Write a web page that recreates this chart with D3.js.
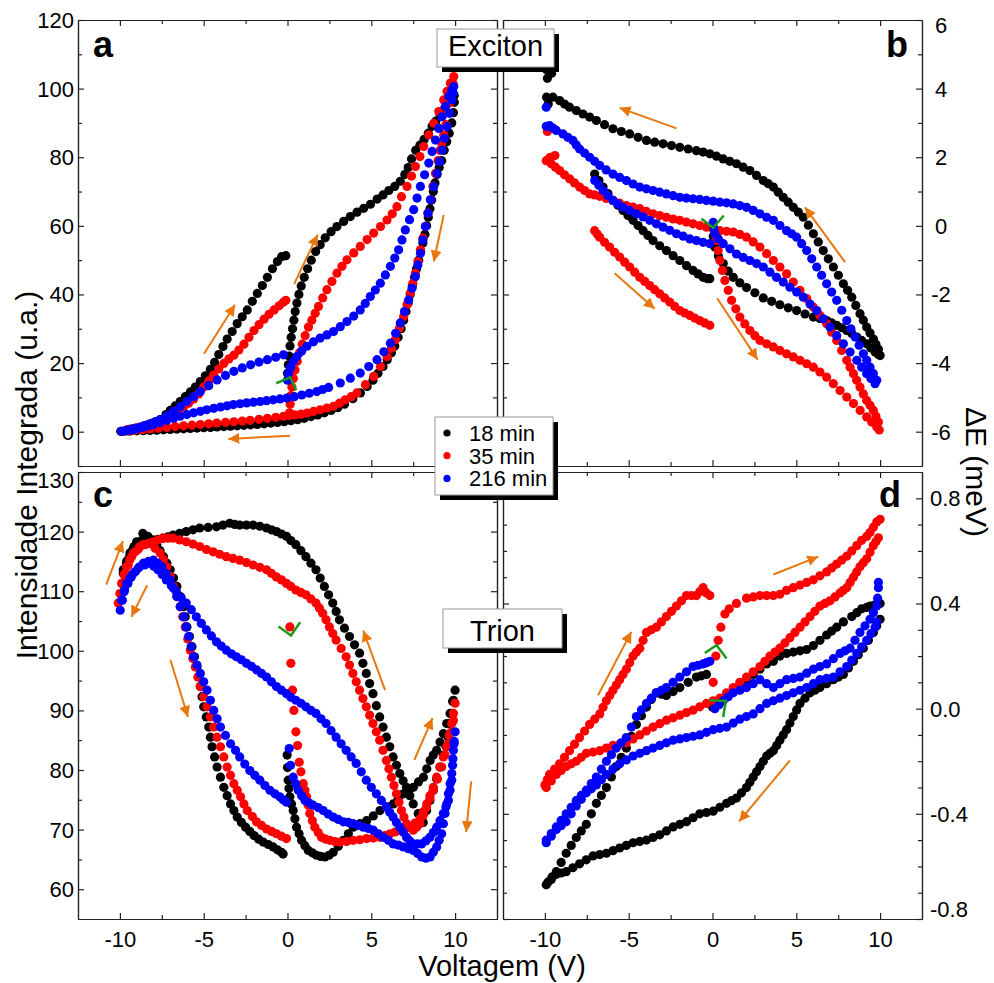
<!DOCTYPE html>
<html>
<head>
<meta charset="utf-8">
<script src="https://cdn.jsdelivr.net/npm/d3@7"></script>
<style>
body { margin: 0; background: #fff; }
text { font-family: "Liberation Sans", Arial, sans-serif; }
</style>
</head>
<body>
<div id="root"></div>
<script>
const seriesNames = ["18 min", "35 min", "216 min"];
const seriesColors = ["#000000", "#ff0000", "#0000ff"];

// panel a: exciton integrated intensity vs voltage (path order 0 -> 10 -> -10 -> 0)
const aBlack = [[0,17],[0.05,19.5],[0.1,22],[0.15,25],[0.22,27.5],[0.3,30],[0.38,32.5],[0.46,35],[0.56,37.5],[0.68,40],[0.82,42.5],[1.0,45],[1.2,47.5],[1.42,50],[1.68,52.5],[1.95,54.5],[2.25,56.5],[2.6,58.3],[2.95,59.8],[3.35,61.3],[3.75,62.7],[4.15,64],[4.55,65.1],[4.95,66.3],[5.35,67.8],[5.7,69],[6.05,70.3],[6.4,71.5],[6.73,73],[7.0,75],[7.2,77],[7.4,79.5],[7.65,82],[7.9,83.5],[8.15,85.2],[8.4,87],[8.63,89],[8.85,90.5],[9.1,92.3],[9.35,94],[9.6,95.7],[9.8,97],[9.95,98],
  [9.95,96],[9.9,93],[9.8,90],[9.65,87],[9.5,84.5],[9.35,82],[9.2,79],[9.05,77],[8.92,75],[8.8,72.5],[8.7,70],[8.6,67.5],[8.5,65],[8.4,62.5],[8.3,60],[8.2,57.5],[8.08,55],[7.95,52.5],[7.83,50],[7.7,47.5],[7.58,45],[7.45,42.5],[7.32,40],[7.2,37.5],[7.07,35],[6.93,32.5],[6.78,30],[6.6,27.5],[6.4,25],[6.2,23],[5.95,21],[5.7,19],[5.4,17],[5.1,15],[4.75,13.2],[4.35,11.3],[3.9,9.6],[3.4,8],[3.0,7],[2.6,6.2],[2.2,5.5],[1.8,4.9],[1.4,4.4],[1.0,3.9],[0.6,3.5],[0.2,3.2],[-0.2,2.9],[-0.6,2.7],[-1.0,2.5],[-1.4,2.3],[-1.8,2.1],[-2.2,2.0],[-2.6,1.85],[-3.0,1.7],[-3.4,1.6],[-3.8,1.5],[-4.2,1.4],[-4.6,1.25],[-5.0,1.15],[-5.4,1.05],[-5.8,0.95],[-6.2,0.85],[-6.6,0.75],[-7.0,0.65],[-7.4,0.55],[-7.8,0.45],[-8.2,0.37],[-8.6,0.3],[-9.0,0.25],[-9.4,0.18],[-9.7,0.14],[-9.95,0.1],
  [-9.6,0.5],[-9.35,0.75],[-9.1,1],[-8.85,1.3],[-8.6,1.6],[-8.35,2.0],[-8.1,2.4],[-7.85,2.9],[-7.6,3.5],[-7.25,5],[-7.0,6.2],[-6.7,7.5],[-6.4,8.8],[-6.1,10.2],[-5.8,11.6],[-5.5,13],[-5.2,14.6],[-4.9,16.3],[-4.6,18.2],[-4.35,20.2],[-4.1,22.5],[-3.85,24.8],[-3.6,27],[-3.3,29.2],[-3.0,31.5],[-2.7,33.5],[-2.4,35.5],[-2.1,38],[-1.8,40.3],[-1.5,42.6],[-1.2,45],[-0.9,47.5],[-0.6,49.6],[-0.35,51],[-0.1,51.3]];
const aRed = [[0.12,5.5],[0.16,8],[0.2,10.5],[0.26,13],[0.35,15.5],[0.45,18],[0.58,20.5],[0.72,23],[0.88,25.5],[1.05,28],[1.25,30.5],[1.45,32.5],[1.65,34.5],[1.85,36.5],[2.1,39],[2.35,41.4],[2.65,43.8],[2.95,46.2],[3.25,48.2],[3.55,50.1],[3.95,52.1],[4.34,54],[4.75,56],[5.14,57.9],[5.55,59.8],[5.94,61.7],[6.25,63.5],[6.53,65.6],[6.8,68.5],[7.13,71.5],[7.4,74.5],[7.63,77.3],[7.9,80.2],[8.13,83.1],[8.43,86.5],[8.73,89.9],[9.03,93.3],[9.32,96.7],[9.52,99.2],[9.72,101.6],[9.92,103.5],
  [9.88,101.5],[9.82,99.6],[9.7,96],[9.58,93],[9.45,89.5],[9.32,86.5],[9.2,84],[9.1,82],[8.98,79],[8.83,75.3],[8.68,71.5],[8.53,67.6],[8.38,63.7],[8.23,59.8],[8.08,56.4],[7.93,53],[7.78,49.6],[7.63,46.2],[7.48,43.3],[7.33,40.4],[7.13,37],[6.93,33.6],[6.68,30.2],[6.43,26.8],[6.2,24.3],[5.94,21.9],[5.55,19],[5.14,16.1],[4.65,13.7],[4.14,11.3],[3.8,10.2],[3.45,9.3],[3.1,8.3],[2.75,7.4],[2.35,6.9],[1.95,6.4],[1.55,5.9],[1.16,5.4],[0.8,5.1],[0.45,4.9],[0.1,4.7],[-0.24,4.5],[-0.7,4.2],[-1.2,3.9],[-1.7,3.6],[-2.23,3.3],[-2.7,3.1],[-3.2,2.9],[-3.7,2.7],[-4.22,2.5],[-4.7,2.3],[-5.2,2.1],[-5.7,1.9],[-6.2,1.7],[-6.7,1.5],[-7.2,1.25],[-7.7,1.0],[-8.2,0.8],[-8.65,0.6],[-9.1,0.4],[-9.5,0.25],[-9.9,0.1],
  [-9.5,0.6],[-9.25,0.85],[-9.0,1.1],[-8.75,1.35],[-8.5,1.6],[-8.25,2.0],[-8.0,2.4],[-7.75,2.85],[-7.5,3.3],[-7.1,4.5],[-6.8,5.4],[-6.5,6.3],[-6.2,7.2],[-5.9,8.3],[-5.6,9.5],[-5.3,11],[-5.0,13],[-4.7,14.8],[-4.4,16.5],[-4.1,18.3],[-3.8,19.9],[-3.5,21.2],[-3.2,22.3],[-2.9,23.8],[-2.6,25.5],[-2.3,27.5],[-2.0,29.5],[-1.7,31.2],[-1.4,32.8],[-1.1,34.2],[-0.8,35.5],[-0.5,36.7],[-0.25,37.7],[-0.1,38.3]];
const aBlue = [[0.0,15],[0.06,17],[0.18,18.8],[0.35,20.5],[0.56,21.9],[0.85,23.5],[1.16,24.9],[1.55,26.2],[1.95,27.3],[2.35,28.2],[2.75,29.2],[3.15,30.6],[3.55,32.1],[3.95,33.7],[4.34,35.5],[4.64,37.4],[4.94,39.4],[5.24,41.3],[5.54,43.3],[5.84,45.7],[6.14,48.2],[6.4,50.6],[6.63,53],[6.83,55.9],[7.03,58.8],[7.28,61.8],[7.53,64.7],[7.73,68.1],[7.93,71.5],[8.18,74.9],[8.43,78.3],[8.63,81.7],[8.83,85],[9.03,88.4],[9.22,91.8],[9.42,94.8],[9.62,97.7],[9.8,99.5],[9.92,100.6],
  [9.88,98.8],[9.82,96.7],[9.67,92.8],[9.52,88.9],[9.37,85.5],[9.22,82.1],[9.07,78.7],[8.92,75.3],[8.72,71.4],[8.53,67.6],[8.38,63.7],[8.23,59.8],[8.08,55.9],[7.93,52],[7.78,48.6],[7.63,45.2],[7.43,41.8],[7.23,38.4],[6.98,35],[6.73,31.7],[6.45,28.7],[6.14,25.8],[5.75,23.3],[5.34,21],[4.85,19],[4.34,17.1],[3.75,15.6],[3.15,14.2],[2.45,12.9],[2.1,12.3],[1.75,11.7],[1.3,11.2],[0.85,10.7],[0.4,10.2],[-0.04,9.8],[-0.45,9.55],[-0.85,9.3],[-1.25,9.05],[-1.63,8.8],[-2.03,8.6],[-2.43,8.4],[-2.83,8.15],[-3.23,7.9],[-3.6,7.55],[-4.0,7.2],[-4.4,6.8],[-4.82,6.4],[-5.2,5.95],[-5.6,5.5],[-6.0,5.0],[-6.41,4.5],[-6.8,3.9],[-7.2,3.3],[-7.6,2.65],[-8.0,2],[-8.3,1.65],[-8.6,1.3],[-8.9,0.95],[-9.2,0.6],[-9.55,0.35],[-9.9,0.1],
  [-9.65,0.35],[-9.4,0.6],[-9.1,0.95],[-8.8,1.3],[-8.5,1.8],[-8.2,2.3],[-7.9,2.9],[-7.6,3.5],[-7.2,4.6],[-6.8,5.9],[-6.4,7.3],[-6.0,8.8],[-5.6,10.2],[-5.2,11.7],[-4.7,13.4],[-4.2,15.1],[-3.7,16.4],[-3.2,17.6],[-2.7,18.6],[-2.2,19.5],[-1.7,20.3],[-1.2,21],[-0.7,21.7],[-0.24,22.4]];

// panel b: exciton energy shift (meV)
const bBlack = [[0,0],[0.05,-0.3],[0.14,-0.62],[0.35,-0.88],[0.64,-1.1],[0.94,-1.32],[1.24,-1.5],[1.63,-1.66],[2.03,-1.8],[2.53,-1.95],[3.03,-2.1],[3.53,-2.2],[4.02,-2.3],[4.52,-2.39],[5.02,-2.47],[5.52,-2.57],[6.02,-2.66],[6.41,-2.7],[6.81,-2.76],[7.11,-2.83],[7.41,-2.9],[7.71,-2.97],[8.01,-3.05],[8.31,-3.14],[8.61,-3.24],[8.9,-3.34],[9.2,-3.44],[9.45,-3.56],[9.7,-3.68],[9.9,-3.75],
  [10,-3.78],[9.9,-3.6],[9.75,-3.45],[9.6,-3.3],[9.4,-3.12],[9.2,-2.95],[9.0,-2.75],[8.8,-2.56],[8.55,-2.32],[8.31,-2.08],[8.06,-1.88],[7.81,-1.69],[7.51,-1.44],[7.21,-1.2],[6.91,-0.96],[6.61,-0.72],[6.31,-0.47],[6.02,-0.23],[5.72,0.02],[5.42,0.25],[5.12,0.4],[4.82,0.54],[4.52,0.69],[4.22,0.83],[3.92,0.98],[3.63,1.13],[3.33,1.23],[3.03,1.32],[2.63,1.47],[2.23,1.61],[1.83,1.71],[1.43,1.81],[1.03,1.88],[0.64,1.95],[0.24,2.03],[-0.16,2.1],[-0.56,2.15],[-0.96,2.19],[-1.45,2.24],[-1.95,2.29],[-2.45,2.34],[-2.95,2.39],[-3.45,2.44],[-3.94,2.49],[-4.44,2.58],[-4.94,2.68],[-5.44,2.75],[-5.94,2.83],[-6.44,2.95],[-6.93,3.07],[-7.33,3.17],[-7.73,3.26],[-8.13,3.36],[-8.53,3.46],[-8.83,3.55],[-9.12,3.65],[-9.52,3.75],[-9.8,3.55],[-9.9,3.75],[-9.85,4.3],[-9.9,4.55],[-9.6,4.45],
  [-7.03,1.51],[-6.78,1.32],[-6.53,1.13],[-6.24,0.94],[-5.94,0.74],[-5.64,0.6],[-5.34,0.45],[-5.04,0.3],[-4.74,0.16],[-4.44,0.01],[-4.14,-0.14],[-3.85,-0.28],[-3.55,-0.43],[-3.15,-0.58],[-2.75,-0.72],[-2.35,-0.87],[-1.95,-1.01],[-1.55,-1.16],[-1.16,-1.3],[-0.86,-1.4],[-0.56,-1.5],[-0.3,-1.54],[-0.16,-1.54]];
const bRed = [[0.04,-0.04],[0.14,-0.24],[0.24,-0.43],[0.34,-0.72],[0.44,-1.01],[0.59,-1.3],[0.74,-1.59],[0.94,-1.88],[1.14,-2.17],[1.39,-2.42],[1.63,-2.66],[1.93,-2.86],[2.23,-3.05],[2.53,-3.2],[2.83,-3.34],[3.23,-3.44],[3.63,-3.53],[4.02,-3.63],[4.42,-3.73],[4.82,-3.82],[5.22,-3.92],[5.62,-4.02],[6.02,-4.12],[6.41,-4.26],[6.81,-4.41],[7.21,-4.6],[7.61,-4.8],[8.01,-4.99],[8.41,-5.18],[8.81,-5.38],[9.2,-5.57],[9.5,-5.72],[9.8,-5.86],[9.95,-5.95],
  [9.9,-5.72],[9.75,-5.55],[9.6,-5.38],[9.4,-5.23],[9.2,-5.09],[9.0,-4.9],[8.8,-4.7],[8.6,-4.5],[8.41,-4.31],[8.21,-4.12],[8.01,-3.92],[7.71,-3.63],[7.41,-3.34],[7.11,-3.1],[6.81,-2.85],[6.41,-2.61],[6.02,-2.37],[5.62,-2.12],[5.22,-1.88],[4.82,-1.64],[4.42,-1.4],[4.02,-1.2],[3.63,-1.01],[3.23,-0.81],[2.83,-0.62],[2.43,-0.47],[2.03,-0.33],[1.63,-0.25],[1.24,-0.18],[0.84,-0.16],[0.44,-0.14],[0.04,-0.09],[-0.36,-0.04],[-0.76,0.01],[-1.16,0.06],[-1.56,0.11],[-1.95,0.16],[-2.35,0.2],[-2.75,0.25],[-3.15,0.3],[-3.55,0.35],[-3.95,0.42],[-4.34,0.5],[-4.74,0.55],[-5.14,0.59],[-5.54,0.66],[-5.94,0.74],[-6.34,0.8],[-6.73,0.86],[-7.03,0.9],[-7.33,0.93],[-7.63,1.03],[-7.93,1.13],[-8.23,1.25],[-8.53,1.37],[-8.83,1.49],[-9.12,1.61],[-9.37,1.71],[-9.62,1.81],[-9.92,1.9],[-9.7,2.0],[-9.4,2.05],[-9.85,2.75],
  [-7.03,-0.14],[-6.88,-0.24],[-6.73,-0.33],[-6.44,-0.48],[-6.14,-0.62],[-5.84,-0.77],[-5.54,-0.91],[-5.24,-1.06],[-4.94,-1.2],[-4.64,-1.35],[-4.34,-1.5],[-4.04,-1.62],[-3.75,-1.74],[-3.45,-1.86],[-3.15,-1.98],[-2.85,-2.1],[-2.55,-2.22],[-2.25,-2.35],[-1.95,-2.47],[-1.65,-2.54],[-1.35,-2.61],[-1.05,-2.69],[-0.76,-2.76],[-0.46,-2.83],[-0.16,-2.9]];
const bBlue = [[0.04,0.1],[0.08,-0.08],[0.14,-0.23],[0.35,-0.38],[0.64,-0.52],[1.04,-0.67],[1.43,-0.82],[1.83,-0.92],[2.23,-1.01],[2.63,-1.1],[3.03,-1.2],[3.43,-1.35],[3.82,-1.5],[4.22,-1.64],[4.62,-1.79],[5.02,-1.93],[5.42,-2.08],[5.82,-2.28],[6.22,-2.47],[6.61,-2.71],[7.01,-2.95],[7.41,-3.2],[7.81,-3.44],[8.21,-3.68],[8.61,-3.92],[8.9,-4.12],[9.2,-4.31],[9.45,-4.45],[9.7,-4.6],
  [9.8,-4.5],[9.6,-4.31],[9.4,-4.12],[9.2,-3.92],[9.0,-3.73],[8.75,-3.48],[8.51,-3.24],[8.26,-3.0],[8.01,-2.76],[7.71,-2.46],[7.41,-2.17],[7.11,-1.93],[6.81,-1.69],[6.51,-1.44],[6.22,-1.2],[5.92,-0.96],[5.62,-0.72],[5.32,-0.52],[5.02,-0.33],[4.72,-0.23],[4.42,-0.14],[4.02,0.01],[3.63,0.16],[3.23,0.25],[2.83,0.35],[2.43,0.45],[2.03,0.54],[1.63,0.59],[1.24,0.64],[0.84,0.67],[0.44,0.69],[0.04,0.72],[-0.36,0.74],[-0.76,0.77],[-1.16,0.79],[-1.56,0.81],[-1.95,0.83],[-2.35,0.88],[-2.75,0.93],[-3.15,0.98],[-3.55,1.03],[-3.95,1.08],[-4.34,1.13],[-4.74,1.22],[-5.14,1.32],[-5.54,1.41],[-5.94,1.51],[-6.34,1.63],[-6.73,1.76],[-7.03,1.88],[-7.33,2.0],[-7.63,2.12],[-7.93,2.24],[-8.13,2.36],[-8.33,2.49],[-8.63,2.58],[-8.92,2.68],[-9.32,2.78],[-9.52,2.85],[-9.72,2.92],[-9.92,2.9],[-9.92,3.46],
  [-7.03,1.32],[-6.78,1.18],[-6.53,1.03],[-6.24,0.88],[-5.94,0.74],[-5.64,0.64],[-5.34,0.54],[-4.94,0.45],[-4.54,0.35],[-4.14,0.26],[-3.75,0.16],[-3.35,0.06],[-2.95,-0.04],[-2.55,-0.13],[-2.15,-0.23],[-1.75,-0.3],[-1.35,-0.38],[-0.96,-0.43],[-0.56,-0.48],[-0.16,-0.52]];

// panel c: trion integrated intensity
const cBlack = [[-0.02,82.5],[0.0,80.4],[0.04,78.3],[0.09,76.9],[0.14,75.5],[0.24,74.3],[0.34,73.2],[0.44,71.8],[0.54,70.4],[0.69,69.3],[0.84,68.2],[1.04,67.3],[1.24,66.5],[1.48,66.1],[1.73,65.7],[1.98,65.5],[2.23,65.4],[2.48,65.7],[2.73,66.2],[3.03,67.2],[3.33,68.2],[3.63,69.3],[3.92,70.4],[4.32,71],[4.72,71.5],[5.12,72.3],[5.52,73.2],[5.92,73.8],[6.31,74.3],[6.61,75.2],[6.91,76],[7.21,76.6],[7.51,77.1],[7.81,78],[8.11,78.8],[8.31,80.2],[8.51,81.6],[8.7,82.5],[8.9,83.3],[9.1,84.7],[9.3,86.1],[9.5,87.8],[9.7,89.5],[9.85,91.5],[10,93.4],
  [9.9,91.7],[9.8,89.5],[9.7,87.8],[9.6,85.5],[9.45,84],[9.3,82.5],[9.1,80.5],[8.9,78.5],[8.7,76.6],[8.5,74.9],[8.3,73.2],[8.1,71.2],[7.8,72.7],[7.5,74.3],[7.3,75.7],[7.1,77.1],[6.9,78.2],[6.7,79.4],[6.5,80.8],[6.3,82.2],[6.1,83.9],[5.9,85.5],[5.7,87.2],[5.5,88.9],[5.3,90.8],[5.1,92.8],[4.9,94.5],[4.7,96.2],[4.5,97.9],[4.3,99.6],[4.0,101],[3.7,102.4],[3.4,103.8],[3.1,105.2],[2.9,106.6],[2.7,108],[2.45,109.4],[2.2,110.8],[1.95,112.2],[1.7,113.6],[1.4,114.7],[1.1,115.8],[0.8,116.8],[0.5,117.8],[0.2,118.5],[-0.06,119.2],[-0.36,119.6],[-0.66,120],[-0.96,120.3],[-1.25,120.6],[-1.65,120.9],[-2.05,121.1],[-2.45,121.1],[-2.85,121.1],[-3.15,121.2],[-3.45,121.4],[-3.85,121.1],[-4.24,120.8],[-4.74,120.7],[-5.24,120.6],[-5.64,120.3],[-6.04,120],[-6.44,119.7],[-6.83,119.4],[-7.13,119.1],[-7.43,118.9],[-7.73,118.7],[-8.03,118.6],[-8.33,119.2],[-8.63,119.7],[-9.0,118.3],[-9.15,117.5],[-9.3,116.6],[-9.45,115.6],[-9.6,114.7],[-9.8,113],
  [-9.8,113.6],[-9.6,115],[-9.4,116.4],[-9.2,117.2],[-9.0,118],[-8.7,118.5],[-8.4,118.9],[-8.1,118.4],[-7.8,117.8],[-7.6,116.8],[-7.4,115.8],[-7.2,114.7],[-7.0,113.6],[-6.8,112.2],[-6.6,110.8],[-6.4,109.1],[-6.2,107.4],[-6.1,105.7],[-6.0,104],[-5.85,102.4],[-5.7,100.7],[-5.55,99],[-5.4,97.3],[-5.3,95.6],[-5.2,94],[-5.1,92.3],[-5.0,90.6],[-4.85,88.9],[-4.7,87.2],[-4.6,85.5],[-4.5,83.9],[-4.35,82.2],[-4.2,80.5],[-4.0,78.8],[-3.8,77.1],[-3.6,75.7],[-3.4,74.3],[-3.2,73.2],[-3.0,72.1],[-2.75,71.2],[-2.5,70.4],[-2.25,69.7],[-2.0,69],[-1.72,68.4],[-1.45,67.9],[-1.15,67.5],[-0.86,67.1],[-0.6,66.6],[-0.36,66.2],[-0.26,65.9]];
const cRed = [[0.14,104],[0.2,97.9],[0.3,93.4],[0.38,90],[0.5,86.4],[0.6,84.1],[0.7,81.3],[0.8,79.7],[0.94,77.7],[1.04,76.6],[1.14,75.5],[1.24,74.1],[1.33,72.7],[1.48,71.5],[1.63,70.4],[1.83,69.5],[2.03,68.7],[2.28,68.4],[2.53,68.2],[2.83,68],[3.13,67.9],[3.53,68],[3.92,68.2],[4.32,68.3],[4.72,68.5],[5.12,68.6],[5.52,68.7],[5.82,69],[6.12,69.3],[6.42,69.6],[6.71,69.9],[7.01,70.1],[7.31,70.4],[7.61,71.1],[7.91,71.8],[8.11,73],[8.31,74.3],[8.5,75.7],[8.7,77.1],[8.9,78.8],[9.1,80.5],[9.3,82.2],[9.5,83.9],[9.65,85.8],[9.8,87.8],[9.9,89.5],[10,91.2],
  [9.9,88.3],[9.75,86.3],[9.6,84.4],[9.4,82.5],[9.2,80.5],[8.95,78.5],[8.7,76.6],[8.5,75.2],[8.3,73.8],[8.1,72.4],[7.9,71],[7.7,70.4],[7.5,69.9],[7.3,70.4],[7.1,71],[6.95,72.1],[6.8,73.2],[6.65,74.6],[6.5,76],[6.35,77.4],[6.2,78.8],[6.05,80.2],[5.9,81.6],[5.7,83.3],[5.5,85],[5.3,86.4],[5.1,87.8],[4.9,89.2],[4.7,90.6],[4.5,92],[4.3,93.4],[4.1,94.8],[3.9,96.2],[3.7,97.6],[3.5,99],[3.2,100.4],[2.9,101.8],[2.7,102.9],[2.5,104],[2.3,105.2],[2.1,106.3],[1.9,107.2],[1.7,108],[1.4,108.7],[1.1,109.4],[0.8,109.8],[0.5,110.2],[0.2,110.8],[-0.06,111.3],[-0.36,111.9],[-0.66,112.4],[-0.96,113],[-1.25,113.6],[-1.65,114],[-2.05,114.4],[-2.45,114.8],[-2.85,115.2],[-3.25,115.5],[-3.65,115.8],[-4.05,116.2],[-4.44,116.6],[-4.84,117],[-5.24,117.5],[-5.64,117.9],[-6.04,118.3],[-6.44,118.6],[-6.83,118.9],[-7.13,118.9],[-7.43,118.9],[-7.73,118.6],[-8.03,118.3],[-8.33,118],[-8.63,117.8],[-8.9,117.1],[-9.2,116.4],[-9.4,115.3],[-9.6,114.1],[-9.75,112.7],[-9.9,111.3],[-10.0,109.6],[-10.1,108],
  [-9.85,111.3],[-9.7,113],[-9.5,114.4],[-9.3,115.8],[-9.05,116.7],[-8.8,117.5],[-8.5,117.8],[-8.2,118],[-7.9,117.2],[-7.6,116.4],[-7.4,115.3],[-7.2,114.1],[-7.0,112.5],[-6.8,110.8],[-6.6,109.1],[-6.4,107.4],[-6.25,105.7],[-6.1,104],[-5.95,102],[-5.8,100.1],[-5.65,98.7],[-5.5,97.3],[-5.35,95.6],[-5.2,94],[-5.0,92.3],[-4.8,90.6],[-4.6,88.9],[-4.4,87.2],[-4.2,85.5],[-4.0,83.9],[-3.8,82.2],[-3.6,80.5],[-3.4,79.1],[-3.2,77.7],[-3.0,76.6],[-2.8,75.5],[-2.6,74.3],[-2.4,73.2],[-2.1,72.2],[-1.85,71.3],[-1.55,70.7],[-1.25,70.1],[-0.95,69.7],[-0.66,69.3],[-0.36,68.9],[-0.06,68.5]];
const cBlue = [[0.1,83.6],[0.18,80.8],[0.34,78.8],[0.49,77.7],[0.64,76.6],[0.84,75.7],[1.04,74.9],[1.28,74.5],[1.53,74.1],[1.83,73.7],[2.13,73.2],[2.43,72.6],[2.73,72.1],[3.03,71.7],[3.33,71.3],[3.63,71.2],[3.92,71],[4.22,70.7],[4.52,70.4],[4.82,70.2],[5.12,69.9],[5.42,69.3],[5.72,68.7],[6.02,68.2],[6.31,67.6],[6.61,67.4],[6.91,67.1],[7.21,66.8],[7.51,66.5],[7.76,66],[8.01,65.4],[8.26,65.2],[8.51,65.4],[8.7,66.2],[8.9,67.1],[9.05,68.2],[9.2,69.3],[9.3,71],[9.4,72.7],[9.5,74.3],[9.6,76],[9.7,77.7],[9.8,79.4],[9.87,81.9],[9.94,84.4],[10,86.4],
  [9.95,84.8],[9.9,83.3],[9.85,80.8],[9.8,78.3],[9.7,76.6],[9.6,74.9],[9.45,73.8],[9.3,72.7],[9.1,71.5],[8.9,70.4],[8.7,69.5],[8.5,68.7],[8.25,68.1],[8.0,67.6],[7.75,67.6],[7.5,67.6],[7.3,68.1],[7.1,68.7],[6.9,69.6],[6.7,70.4],[6.5,71.2],[6.3,72.1],[6.1,72.9],[5.9,73.8],[5.6,74.9],[5.3,76],[5.0,77.1],[4.7,78.3],[4.4,79.7],[4.1,81.1],[3.8,82.2],[3.5,83.3],[3.2,84.4],[2.9,85.5],[2.6,86.6],[2.3,87.8],[2.0,88.6],[1.7,89.5],[1.4,90],[1.1,90.6],[0.8,91.2],[0.5,91.7],[0.2,92.2],[-0.06,92.8],[-0.36,93.4],[-0.66,94],[-0.96,94.8],[-1.25,95.6],[-1.55,96.2],[-1.85,96.8],[-2.15,97.4],[-2.45,97.9],[-2.75,98.5],[-3.05,99],[-3.35,99.5],[-3.65,100.1],[-3.95,100.8],[-4.24,101.5],[-4.54,102.5],[-4.84,103.5],[-5.14,104.6],[-5.44,105.7],[-5.74,106.9],[-6.04,108],[-6.34,108.9],[-6.63,109.9],[-6.93,110.9],[-7.23,111.9],[-7.48,112.8],[-7.73,113.6],[-7.98,114.2],[-8.22,114.7],[-8.52,114.4],[-8.82,114.1],[-9.07,113.3],[-9.32,112.4],[-9.52,111.3],[-9.72,110.2],[-9.85,108.5],[-9.98,106.8],
  [-9.9,108.5],[-9.75,109.9],[-9.6,111.3],[-9.4,112.2],[-9.2,113],[-8.9,113.9],[-8.6,114.7],[-8.3,115],[-8.0,115.2],[-7.75,114.7],[-7.5,114.1],[-7.25,113],[-7.0,111.9],[-6.8,110.5],[-6.6,109.1],[-6.4,107.4],[-6.2,105.7],[-6.05,104],[-5.9,102.4],[-5.75,100.7],[-5.6,99],[-5.4,97.6],[-5.2,96.2],[-5.0,94.8],[-4.8,93.4],[-4.6,91.7],[-4.4,90],[-4.2,88.6],[-4.0,87.2],[-3.7,85.8],[-3.4,84.4],[-3.1,83.3],[-2.85,82.2],[-2.55,81],[-2.25,79.9],[-1.95,79.1],[-1.65,78.3],[-1.35,77.4],[-1.05,76.6],[-0.75,76],[-0.46,75.5],[-0.26,75],[-0.06,74.6]];

// panel d: trion energy shift (meV)
const dBlack = [[0,0.006],[0.22,0.02],[0.44,0.03],[0.84,0.05],[1.24,0.07],[1.64,0.09],[2.03,0.11],[2.43,0.13],[2.83,0.15],[3.23,0.17],[3.63,0.18],[4.02,0.2],[4.42,0.21],[4.82,0.215],[5.22,0.22],[5.62,0.225],[6.02,0.24],[6.41,0.26],[6.81,0.28],[7.11,0.295],[7.41,0.31],[7.81,0.33],[8.31,0.35],[8.61,0.365],[8.9,0.38],[9.2,0.385],[9.4,0.39],[9.7,0.395],[10,0.4],
  [10,0.34],[9.8,0.315],[9.6,0.29],[9.3,0.26],[9.0,0.23],[8.7,0.205],[8.41,0.18],[8.11,0.155],[7.81,0.13],[7.51,0.12],[7.21,0.11],[6.81,0.095],[6.41,0.08],[6.11,0.07],[5.82,0.06],[5.52,0.04],[5.22,0.02],[5.02,-0.005],[4.82,-0.03],[4.62,-0.055],[4.42,-0.08],[4.22,-0.1],[4.02,-0.12],[3.83,-0.14],[3.63,-0.16],[3.43,-0.17],[3.23,-0.18],[3.03,-0.2],[2.83,-0.22],[2.63,-0.24],[2.43,-0.26],[2.23,-0.28],[2.03,-0.3],[1.73,-0.32],[1.43,-0.34],[1.13,-0.35],[0.84,-0.36],[0.44,-0.375],[0.04,-0.39],[-0.36,-0.395],[-0.76,-0.4],[-1.16,-0.415],[-1.55,-0.43],[-1.95,-0.44],[-2.35,-0.45],[-2.75,-0.465],[-3.15,-0.48],[-3.55,-0.49],[-3.94,-0.5],[-4.34,-0.505],[-4.74,-0.51],[-5.14,-0.52],[-5.54,-0.53],[-5.94,-0.54],[-6.33,-0.55],[-6.73,-0.555],[-7.13,-0.56],[-7.53,-0.575],[-7.93,-0.59],[-8.33,-0.605],[-8.73,-0.62],[-9.03,-0.625],[-9.32,-0.63],[-9.62,-0.65],[-9.92,-0.67],
  [-9.82,-0.66],[-9.57,-0.64],[-9.32,-0.62],[-9.03,-0.585],[-8.73,-0.55],[-8.43,-0.52],[-8.13,-0.49],[-7.83,-0.465],[-7.53,-0.44],[-7.23,-0.4],[-6.93,-0.36],[-6.63,-0.33],[-6.33,-0.3],[-6.03,-0.26],[-5.74,-0.22],[-5.44,-0.185],[-5.14,-0.15],[-4.84,-0.105],[-4.54,-0.06],[-4.24,-0.027],[-3.94,0.006],[-3.65,0.035],[-3.35,0.06],[-3.05,0.055],[-2.75,0.05],[-2.35,0.065],[-1.95,0.08],[-1.45,0.1],[-0.96,0.12],[-0.66,0.125],[-0.36,0.13]];
const dRed = [[0.04,0.1],[0.2,0.2],[0.34,0.26],[0.5,0.31],[0.74,0.36],[1.0,0.38],[1.43,0.4],[2.03,0.42],[2.43,0.425],[2.83,0.43],[3.23,0.43],[3.63,0.43],[4.02,0.435],[4.42,0.45],[4.82,0.46],[5.22,0.47],[5.62,0.48],[6.02,0.49],[6.41,0.505],[6.81,0.52],[7.11,0.535],[7.41,0.55],[7.71,0.565],[8.01,0.58],[8.31,0.6],[8.61,0.62],[8.9,0.64],[9.2,0.655],[9.4,0.67],[9.6,0.69],[9.8,0.71],[10,0.72],
  [9.9,0.65],[9.75,0.635],[9.6,0.62],[9.4,0.595],[9.2,0.57],[9.0,0.555],[8.8,0.54],[8.6,0.52],[8.41,0.5],[8.21,0.48],[8.01,0.46],[7.81,0.45],[7.61,0.44],[7.31,0.425],[7.01,0.41],[6.71,0.4],[6.41,0.39],[6.11,0.37],[5.82,0.35],[5.52,0.33],[5.22,0.31],[4.92,0.29],[4.62,0.27],[4.32,0.25],[4.02,0.23],[3.73,0.215],[3.43,0.2],[3.13,0.18],[2.83,0.16],[2.43,0.14],[2.03,0.12],[1.63,0.1],[1.24,0.08],[0.84,0.06],[0.44,0.04],[0.04,0.03],[-0.36,0.02],[-0.76,0.007],[-1.16,-0.006],[-1.55,-0.015],[-1.95,-0.025],[-2.35,-0.035],[-2.75,-0.044],[-3.15,-0.057],[-3.55,-0.07],[-3.95,-0.085],[-4.34,-0.1],[-4.74,-0.115],[-5.14,-0.13],[-5.54,-0.135],[-5.94,-0.14],[-6.33,-0.15],[-6.73,-0.16],[-7.13,-0.165],[-7.53,-0.17],[-7.83,-0.185],[-8.13,-0.2],[-8.43,-0.21],[-8.73,-0.22],[-9.03,-0.235],[-9.32,-0.25],[-9.62,-0.275],[-9.92,-0.3],
  [-10,-0.29],[-9.86,-0.27],[-9.72,-0.25],[-9.42,-0.23],[-9.12,-0.21],[-8.83,-0.185],[-8.53,-0.16],[-8.23,-0.135],[-7.93,-0.11],[-7.63,-0.085],[-7.33,-0.06],[-7.03,-0.04],[-6.73,-0.02],[-6.53,0.005],[-6.33,0.03],[-6.13,0.05],[-5.94,0.07],[-5.74,0.09],[-5.54,0.11],[-5.34,0.13],[-5.14,0.15],[-4.94,0.175],[-4.74,0.2],[-4.54,0.215],[-4.34,0.23],[-4.14,0.26],[-3.94,0.29],[-3.65,0.3],[-3.35,0.31],[-3.05,0.33],[-2.75,0.35],[-2.45,0.37],[-2.15,0.39],[-1.85,0.41],[-1.55,0.43],[-1.25,0.43],[-0.96,0.43],[-0.76,0.445],[-0.56,0.46],[-0.36,0.44],[-0.16,0.43]];
const dBlue = [[0.14,0.0],[0.39,0.015],[0.64,0.03],[0.94,0.045],[1.24,0.06],[1.64,0.07],[2.03,0.08],[2.43,0.095],[2.83,0.11],[3.23,0.095],[3.63,0.08],[4.02,0.095],[4.42,0.11],[4.82,0.115],[5.22,0.12],[5.62,0.135],[6.02,0.15],[6.41,0.16],[6.81,0.17],[7.21,0.19],[7.61,0.21],[7.91,0.22],[8.21,0.23],[8.5,0.26],[8.8,0.29],[9.1,0.315],[9.4,0.34],[9.6,0.365],[9.8,0.39],[9.85,0.42],[9.9,0.46],[9.9,0.48],
  [9.8,0.33],[9.7,0.31],[9.45,0.285],[9.2,0.26],[8.9,0.235],[8.61,0.21],[8.31,0.185],[8.01,0.16],[7.61,0.14],[7.21,0.12],[6.81,0.115],[6.41,0.11],[6.02,0.095],[5.62,0.08],[5.22,0.07],[4.82,0.06],[4.42,0.05],[4.02,0.04],[3.63,0.03],[3.23,0.02],[2.83,0.0],[2.43,-0.02],[2.03,-0.03],[1.63,-0.04],[1.24,-0.055],[0.84,-0.07],[0.44,-0.075],[0.04,-0.08],[-0.36,-0.09],[-0.76,-0.1],[-1.16,-0.105],[-1.55,-0.11],[-1.95,-0.115],[-2.35,-0.12],[-2.75,-0.13],[-3.15,-0.14],[-3.55,-0.15],[-3.94,-0.16],[-4.34,-0.17],[-4.74,-0.18],[-5.14,-0.195],[-5.54,-0.21],[-5.94,-0.23],[-6.33,-0.25],[-6.63,-0.27],[-6.93,-0.29],[-7.23,-0.305],[-7.53,-0.32],[-7.83,-0.345],[-8.13,-0.37],[-8.43,-0.4],[-8.73,-0.43],[-9.03,-0.445],[-9.32,-0.46],[-9.62,-0.485],[-9.92,-0.51],
  [-9.92,-0.5],[-9.62,-0.475],[-9.32,-0.45],[-9.03,-0.425],[-8.73,-0.4],[-8.43,-0.375],[-8.13,-0.35],[-7.83,-0.33],[-7.53,-0.31],[-7.23,-0.285],[-6.93,-0.26],[-6.63,-0.23],[-6.33,-0.2],[-6.03,-0.175],[-5.74,-0.15],[-5.44,-0.13],[-5.14,-0.11],[-4.84,-0.07],[-4.54,-0.03],[-4.24,-0.005],[-3.94,0.02],[-3.65,0.04],[-3.35,0.06],[-3.05,0.07],[-2.75,0.08],[-2.35,0.1],[-1.95,0.12],[-1.55,0.14],[-1.16,0.16],[-0.86,0.165],[-0.56,0.17],[-0.36,0.175],[-0.16,0.18]];

// sweep direction arrows [x1, y1, x2, y2] in data units
const arrowsA = [[-4.98,22.7,-3.13,37],[0.4,43.1,1.8,57.4],[9.32,63.2,8.73,49.6],[0.16,-1.2,-3.53,-2.1]];
const arrowsB = [[-2.15,2.84,-5.54,3.44],[7.91,-1.06,5.52,0.54],[-5.84,-1.38,-3.45,-2.42],[0.28,-2.11,2.69,-3.9]];
const arrowsC = [[-10.82,111.1,-9.82,118.4],[-8.37,111,-9.32,105.7],[-6.99,98.5,-5.94,88.9],[5.82,93.4,4.52,103.4],[7.57,81.7,8.65,88.7],[10.96,78.1,10.66,69.6]];
const arrowsD = [[-6.83,0.051,-4.84,0.292],[3.63,0.51,6.31,0.578],[4.62,-0.197,1.59,-0.429]];

// start markers (green ticks)
const startsA = [[0.1,14.7]];
const startsB = [[0,0]];
const startsC = [[0.14,104]];
const startsD = [[0.3,0.24],[0.4,0.0]];

const xTicks = [-10, -5, 0, 5, 10];
const xMinor = [-7.5, -2.5, 2.5, 7.5];
const yTicksA = [0, 20, 40, 60, 80, 100, 120];
const yMinorA = [-10, 10, 30, 50, 70, 90, 110];
const yTicksB = [-6, -4, -2, 0, 2, 4, 6];
const yMinorB = [-5, -3, -1, 1, 3, 5];
const yTicksC = [60, 70, 80, 90, 100, 110, 120, 130];
const yMinorC = [65, 75, 85, 95, 105, 115, 125];
const yTicksD = [-0.8, -0.4, 0, 0.4, 0.8];
const yMinorD = [-0.7, -0.6, -0.5, -0.3, -0.2, -0.1, 0.1, 0.2, 0.3, 0.5, 0.6, 0.7];

const FONT = "'Liberation Sans', Arial, sans-serif";
const ORANGE = "#e8770e";
const GREEN = "#1a9a1a";

// plain hyphen as minus sign, like the original figure
const intFmt = v => d3.format("d")(v).replace("\u2212", "-");
const decFmt = v => d3.format(".1f")(v).replace("\u2212", "-");

const svg = d3.select("#root")
    .append("svg")
    .attr("width", 994)
    .attr("height", 983);

svg.append("defs").append("marker")
    .attr("id", "head")
    .attr("markerUnits", "userSpaceOnUse")
    .attr("markerWidth", 12).attr("markerHeight", 11)
    .attr("refX", 11).attr("refY", 5.5)
    .attr("orient", "auto")
    .append("path")
    .attr("d", "M0,0 L11,5.5 L0,11 Z")
    .attr("fill", ORANGE);

// shapes of the green start ticks, pixel offsets
const tickShapes = {
    a: [[[-13, 2], [1, -4], [7, 9]]],
    b: [[[-11, -7], [0.6, 2], [11.3, -10.3]]],
    c: [[[-11.3, -0.4], [1.1, 8.6], [10.4, -4.8]]],
    d: [[[-12.7, 7.4], [-1, -0.3], [9, 13]], [[-10, -8.3], [6.6, -7.6], [4, 8.4]]]
};

const panels = [
    {id: "a", left: 78, right: 497, top: 20, bottom: 466, yDom: [-10, 120], yT: yTicksA, yM: yMinorA, series: [aBlack, aRed, aBlue], arrows: arrowsA, starts: startsA, side: "left", xLabels: false, letter: [93, 57]},
    {id: "b", left: 503, right: 922, top: 20, bottom: 466, yDom: [-7, 6], yT: yTicksB, yM: yMinorB, series: [bBlack, bRed, bBlue], arrows: arrowsB, starts: startsB, side: "right", xLabels: false, letter: [886, 57]},
    {id: "c", left: 78, right: 497, top: 472, bottom: 919, yDom: [55, 130], yT: yTicksC, yM: yMinorC, series: [cBlack, cRed, cBlue], arrows: arrowsC, starts: startsC, side: "left", xLabels: true, letter: [93, 507]},
    {id: "d", left: 503, right: 922, top: 472, bottom: 919, yDom: [-0.8, 0.9], yT: yTicksD, yM: yMinorD, series: [dBlack, dRed, dBlue], arrows: arrowsD, starts: startsD, side: "right", xLabels: true, letter: [879, 507]}
];

function drawPanel(p) {
    const x = d3.scaleLinear().domain([-12.5, 12.5]).range([p.left, p.right]);
    const y = d3.scaleLinear().domain(p.yDom).range([p.bottom, p.top]);
    const g = svg.append("g");

    // data points
    p.series.forEach(function (s, i) {
        g.append("g")
            .selectAll("circle")
            .data(s)
            .enter()
            .append("circle")
            .attr("cx", d => x(d[0]))
            .attr("cy", d => y(d[1]))
            .attr("r", 4.6)
            .attr("fill", seriesColors[i]);
    });

    // arrows
    g.append("g").selectAll("line")
        .data(p.arrows)
        .enter()
        .append("line")
        .attr("x1", d => x(d[0])).attr("y1", d => y(d[1]))
        .attr("x2", d => x(d[2])).attr("y2", d => y(d[3]))
        .attr("stroke", ORANGE)
        .attr("stroke-width", 2)
        .attr("marker-end", "url(#head)");

    // green start ticks
    p.starts.forEach(function (s, i) {
        const cx = x(s[0]), cy = y(s[1]);
        g.append("path")
            .attr("d", d3.line()(tickShapes[p.id][i].map(o => [cx + o[0], cy + o[1]])))
            .attr("fill", "none")
            .attr("stroke", GREEN)
            .attr("stroke-width", 2.5);
    });

    // axes, ticks pointing inward on all four sides
    const ax = g.append("g");
    function put(axis, tx, ty) {
        const a = ax.append("g")
            .attr("transform", "translate(" + tx + "," + ty + ")")
            .call(axis)
            .attr("color", "#222")
            .attr("font-size", 22)
            .attr("font-family", FONT);
        a.selectAll("line, path").attr("stroke-width", 1.2);
        a.selectAll("text").attr("fill", "#000");
        return a;
    }
    const noLab = () => "";
    // bottom
    put(d3.axisBottom(x).tickValues(xTicks).tickSize(-6).tickSizeOuter(0).tickPadding(12)
        .tickFormat(p.xLabels ? intFmt : noLab), 0, p.bottom);
    put(d3.axisBottom(x).tickValues(xMinor).tickSize(-4).tickSizeOuter(0).tickFormat(noLab), 0, p.bottom);
    // top
    put(d3.axisTop(x).tickValues(xTicks).tickSize(-6).tickSizeOuter(0).tickFormat(noLab), 0, p.top);
    put(d3.axisTop(x).tickValues(xMinor).tickSize(-4).tickSizeOuter(0).tickFormat(noLab), 0, p.top);

    const fmt = p.id === "d" ? decFmt : intFmt;
    if (p.side === "left") {
        const l = put(d3.axisLeft(y).tickValues(p.yT).tickSize(-6).tickSizeOuter(0).tickPadding(4).tickFormat(fmt), p.left, 0);
        l.selectAll("text").attr("dy", d => d === 130 ? "0.72em" : "0.34em");
        put(d3.axisLeft(y).tickValues(p.yM).tickSize(-4).tickSizeOuter(0).tickFormat(noLab), p.left, 0);
        put(d3.axisRight(y).tickValues(p.yT).tickSize(-6).tickSizeOuter(0).tickFormat(noLab), p.right, 0);
        put(d3.axisRight(y).tickValues(p.yM).tickSize(-4).tickSizeOuter(0).tickFormat(noLab), p.right, 0);
    } else {
        const r = put(d3.axisRight(y).tickValues(p.yT).tickSize(-6).tickSizeOuter(0).tickPadding(8).tickFormat(fmt), p.right, 0);
        r.selectAll("text")
            .attr("dy", d => (p.id === "b" && d === 6) ? "0.55em" : (p.id === "d" && d === -0.8) ? "-0.1em" : "0.34em");
        if (p.id === "b") r.selectAll("text").attr("text-anchor", "middle").attr("x", 19);
        put(d3.axisRight(y).tickValues(p.yM).tickSize(-4).tickSizeOuter(0).tickFormat(noLab), p.right, 0);
        put(d3.axisLeft(y).tickValues(p.yT).tickSize(-6).tickSizeOuter(0).tickFormat(noLab), p.left, 0);
        put(d3.axisLeft(y).tickValues(p.yM).tickSize(-4).tickSizeOuter(0).tickFormat(noLab), p.left, 0);
    }

    // panel letter
    g.append("text")
        .attr("x", p.letter[0]).attr("y", p.letter[1])
        .attr("font-size", 36).attr("font-weight", "bold")
        .text(p.id);
}

panels.forEach(drawPanel);

// labelled boxes with drop shadow
function shadowBox(x0, y0, w, h) {
    svg.append("rect").attr("x", x0 + 5).attr("y", y0 + 5).attr("width", w).attr("height", h).attr("fill", "#000");
    svg.append("rect").attr("x", x0).attr("y", y0).attr("width", w).attr("height", h)
        .attr("fill", "#fff").attr("stroke", "#999").attr("stroke-width", 1);
}

shadowBox(437, 29, 117, 38);
svg.append("text").attr("x", 495.5).attr("y", 56).attr("text-anchor", "middle")
    .attr("font-size", 29).text("Exciton");

shadowBox(443, 609, 119, 39);
svg.append("text").attr("x", 502.5).attr("y", 641).attr("text-anchor", "middle")
    .attr("font-size", 29).text("Trion");

// legend
shadowBox(435, 417, 118, 78);
const leg = svg.append("g");
leg.selectAll("circle")
    .data(seriesNames)
    .enter()
    .append("circle")
    .attr("cx", 447)
    .attr("cy", (d, i) => 433 + i * 22.7)
    .attr("r", 3.6)
    .attr("fill", (d, i) => seriesColors[i]);
leg.selectAll("text")
    .data(seriesNames)
    .enter()
    .append("text")
    .attr("x", 469)
    .attr("y", (d, i) => 441 + i * 22.7)
    .attr("font-size", 22)
    .text(d => d);

// axis titles
svg.append("text")
    .attr("transform", "translate(37,475) rotate(-90)")
    .attr("text-anchor", "middle")
    .attr("font-size", 30)
    .text("Intensidade Integrada (u.a.)");

svg.append("text")
    .attr("x", 502).attr("y", 976)
    .attr("text-anchor", "middle")
    .attr("font-size", 29)
    .text("Voltagem (V)");

svg.append("text")
    .attr("transform", "translate(966,472) rotate(90)")
    .attr("text-anchor", "middle")
    .attr("font-size", 30)
    .text("ΔE (meV)");
</script>
</body>
</html>
